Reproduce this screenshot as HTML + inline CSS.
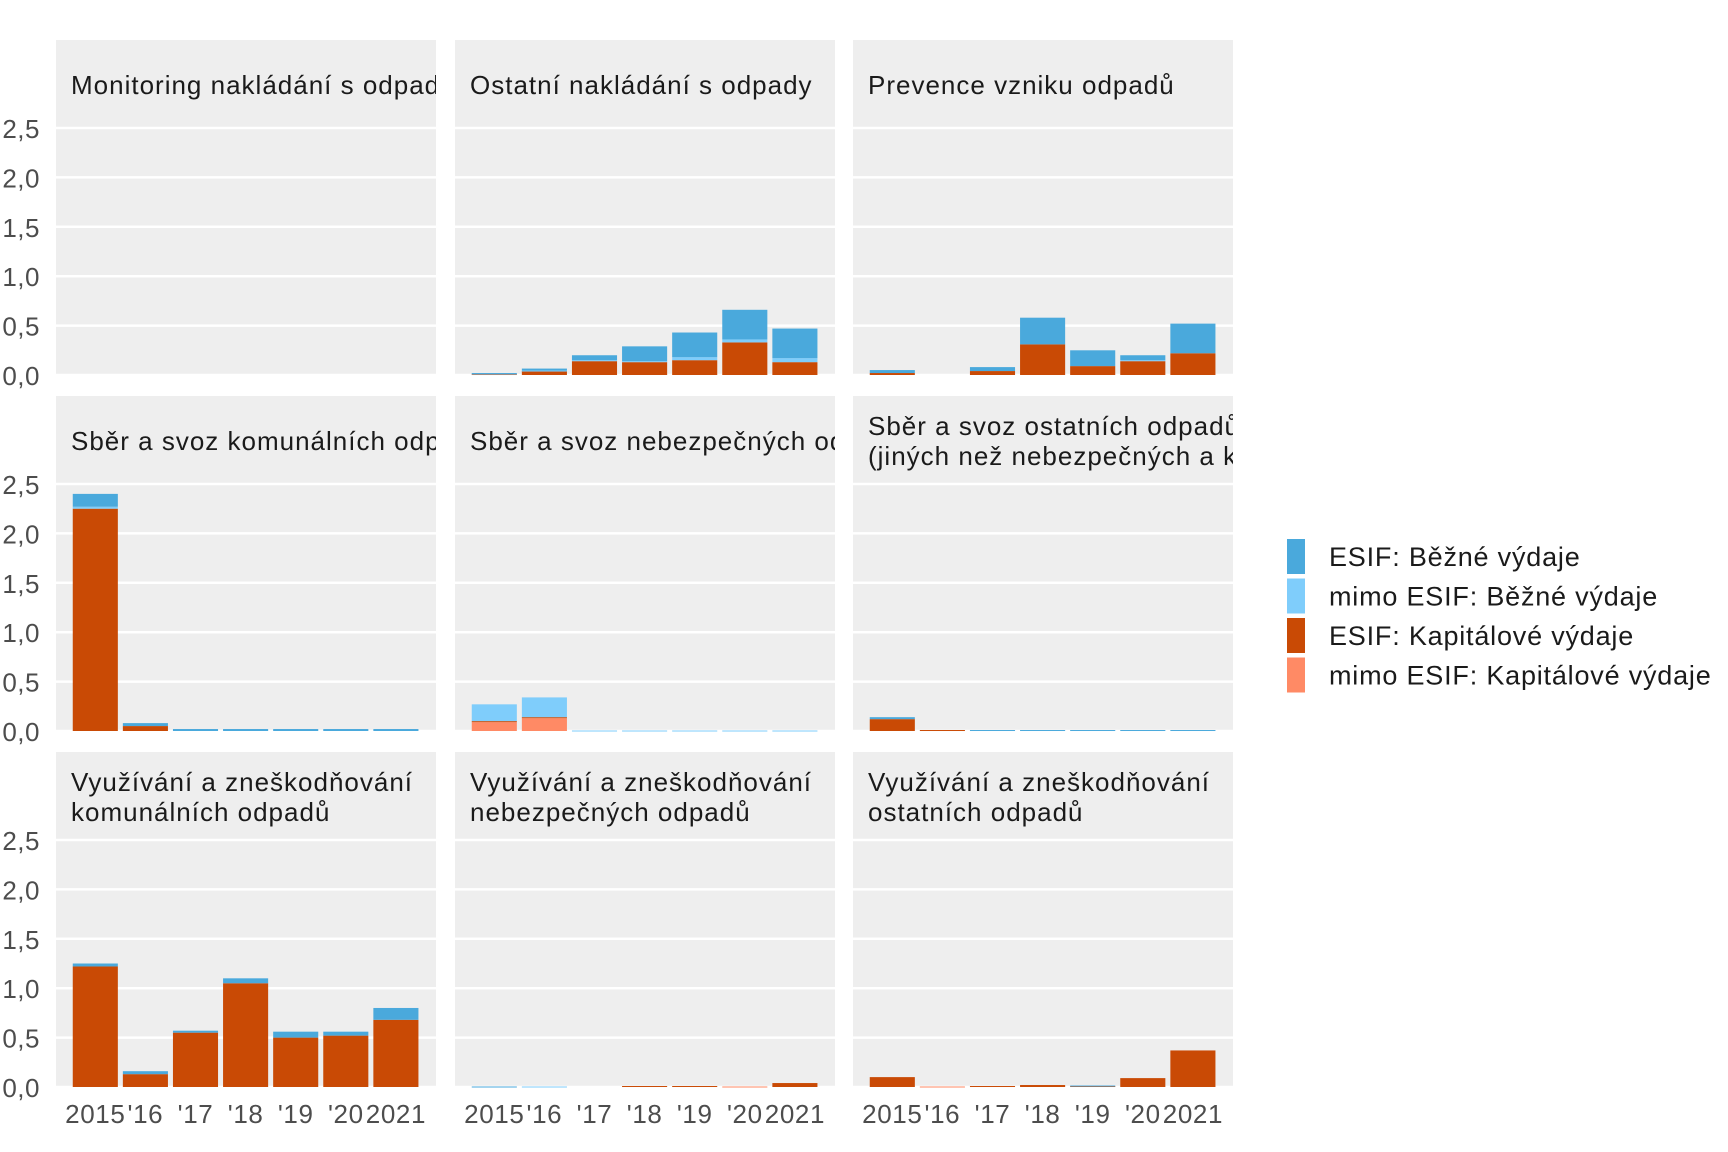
<!DOCTYPE html>
<html><head><meta charset="utf-8"><style>
html,body{margin:0;padding:0;background:#fff;}
svg{display:block;font-family:"Liberation Sans",Arial,sans-serif;}
</style></head><body>
<svg id="chart" width="1728" height="1152" viewBox="0 0 1728 1152"></svg>
<script>
const years = ["2015","'16","'17","'18","'19","'20","2021"];
const seriesNames = ["ESIF: Běžné výdaje","mimo ESIF: Běžné výdaje","ESIF: Kapitálové výdaje","mimo ESIF: Kapitálové výdaje"];
const seriesColors = ["#4aa9dc","#7fcdfb","#c94a05","#ff8a65"];
const yTicks = [0,0.5,1.0,1.5,2.0,2.5];
const yTickLabels = ["0,0","0,5","1,0","1,5","2,0","2,5"];
const panelTitles = [
 ["Monitoring nakládání s odpady"],
 ["Ostatní nakládání s odpady"],
 ["Prevence vzniku odpadů"],
 ["Sběr a svoz komunálních odpadů"],
 ["Sběr a svoz nebezpečných odpadů"],
 ["Sběr a svoz ostatních odpadů","(jiných než nebezpečných a komunálních)"],
 ["Využívání a zneškodňování","komunálních odpadů"],
 ["Využívání a zneškodňování","nebezpečných odpadů"],
 ["Využívání a zneškodňování","ostatních odpadů"]
];
// per panel: [ESIF Běžné, mimo Běžné, ESIF Kap, mimo Kap]
const esifBezne = [
 [0,0,0,0,0,0,0],
 [0.005,0.02,0.05,0.15,0.25,0.30,0.30],
 [0.03,0,0.04,0.27,0.16,0.05,0.30],
 [0.13,0.03,0.02,0.02,0.02,0.02,0.02],
 [0,0,0,0,0,0,0],
 [0.02,0,0.01,0.01,0.01,0.01,0.01],
 [0.03,0.03,0.02,0.05,0.06,0.04,0.12],
 [0.005,0,0,0,0,0,0],
 [0,0,0,0,0.005,0,0]
];
const mimoBezne = [
 [0,0,0,0,0,0,0],
 [0.005,0.005,0.01,0.01,0.03,0.03,0.04],
 [0,0,0,0,0,0.01,0],
 [0.02,0,0,0,0,0,0],
 [0.17,0.2,0.005,0.005,0.005,0.005,0.005],
 [0,0,0,0,0,0,0],
 [0,0,0,0,0,0,0],
 [0,0.005,0,0,0,0,0],
 [0,0,0,0,0,0,0]
];
const esifKap = [
 [0,0,0,0,0,0,0],
 [0.01,0.04,0.14,0.13,0.15,0.33,0.13],
 [0.02,0,0.04,0.31,0.09,0.14,0.22],
 [2.25,0.05,0,0,0,0,0],
 [0.01,0.01,0,0,0,0,0],
 [0.12,0.01,0,0,0,0,0],
 [1.22,0.13,0.55,1.05,0.50,0.52,0.68],
 [0,0,0,0.01,0.01,0,0.04],
 [0.10,0,0.01,0.02,0.01,0.09,0.37]
];
const mimoKap = [
 [0,0,0,0,0,0,0],
 [0,0,0,0,0,0,0],
 [0,0,0,0,0,0,0],
 [0,0,0,0,0,0,0],
 [0.09,0.13,0,0,0,0,0],
 [0,0,0,0,0,0,0],
 [0,0,0,0,0,0,0],
 [0,0,0,0,0,0.005,0],
 [0,0.005,0,0,0,0,0]
];

const NS="http://www.w3.org/2000/svg";
const svg=document.getElementById('chart');
function mk(t,a,p){const e=document.createElementNS(NS,t);for(const k in a)e.setAttribute(k,a[k]);(p||svg).appendChild(e);return e;}
const colX=[56,455,853], panelW=380;
const rowTop=[40,396,752], zeroY=[375,731,1087];
const unitPx=(375-128)/2.5;
function yScale(r,v){return zeroY[r]-v*unitPx;}
const step=50.1;
function xCenter(c,i){return colX[c]+39.3+step*i;}
const stackOrder=[3,2,1,0];
const allSeries=[esifBezne,mimoBezne,esifKap,mimoKap];
for(let p=0;p<9;p++){
  const r=Math.floor(p/3), c=p%3;
  const g=mk('g',{});
  
  
  const bg=mk('rect',{x:colX[c],y:rowTop[r],width:panelW,height:zeroY[r]-rowTop[r]+1,fill:'#eeeeee'},g);
  
  
  yTicks.forEach(t=>{
    const ln=mk('line',{x1:colX[c],x2:colX[c]+panelW,y1:yScale(r,t),y2:yScale(r,t),stroke:'#fff','stroke-width':2.5},g);
    
    
  });
  const clipId='clip'+p;
  const cp=mk('clipPath',{id:clipId},g);
  mk('rect',{x:colX[c],y:rowTop[r],width:panelW,height:120},cp);
  const lines=panelTitles[p];
  const tt=mk('text',{x:colX[c]+15,y:0,'font-size':26,'letter-spacing':1,fill:'#1a1a1a','clip-path':'url(#'+clipId+')'},g);
  
  
  lines.forEach((l,i)=>{
    const ts=mk('tspan',{x:colX[c]+15,y:rowTop[r]+(lines.length===1?54:39+i*30)},tt);
    ts.textContent=l;
  });
  for(let i=0;i<7;i++){
    let acc=0;
    stackOrder.forEach(s=>{
      const v=allSeries[s][p][i];
      if(v<=0)return;
      const y0=yScale(r,acc), y1=yScale(r,acc+v);
      acc+=v;
      const b=mk('rect',{x:xCenter(c,i)-step*0.45,y:y1,width:step*0.9,height:Math.max(y0-y1,1),fill:seriesColors[s]},g);
      
      
    });
  }
  if(c===0){
    yTicks.forEach((t,k)=>{
      const tl=mk('text',{x:40,y:yScale(r,t)+10,'text-anchor':'end','font-size':26,'letter-spacing':0.5,fill:'#4d4d4d'});
      tl.textContent=yTickLabels[k];
      
      
    });
  }
  if(r===2){
    years.forEach((y,i)=>{
      const xl=mk('text',{x:xCenter(c,i),y:1123,'text-anchor':'middle','font-size':26,'letter-spacing':0.6,fill:'#4d4d4d'});
      xl.textContent=y;
      
      
    });
  }
}
const lg=mk('g',{});


seriesNames.forEach((n,i)=>{
  const y=539+i*39.5;
  const k=mk('rect',{x:1287,y:y,width:18,height:35,fill:seriesColors[i]},lg);
  
  
  const t=mk('text',{x:1329,y:y+27,'font-size':27,'letter-spacing':0.8,fill:'#1a1a1a'},lg);
  t.textContent=n;
  
  
});
</script>
</body></html>
